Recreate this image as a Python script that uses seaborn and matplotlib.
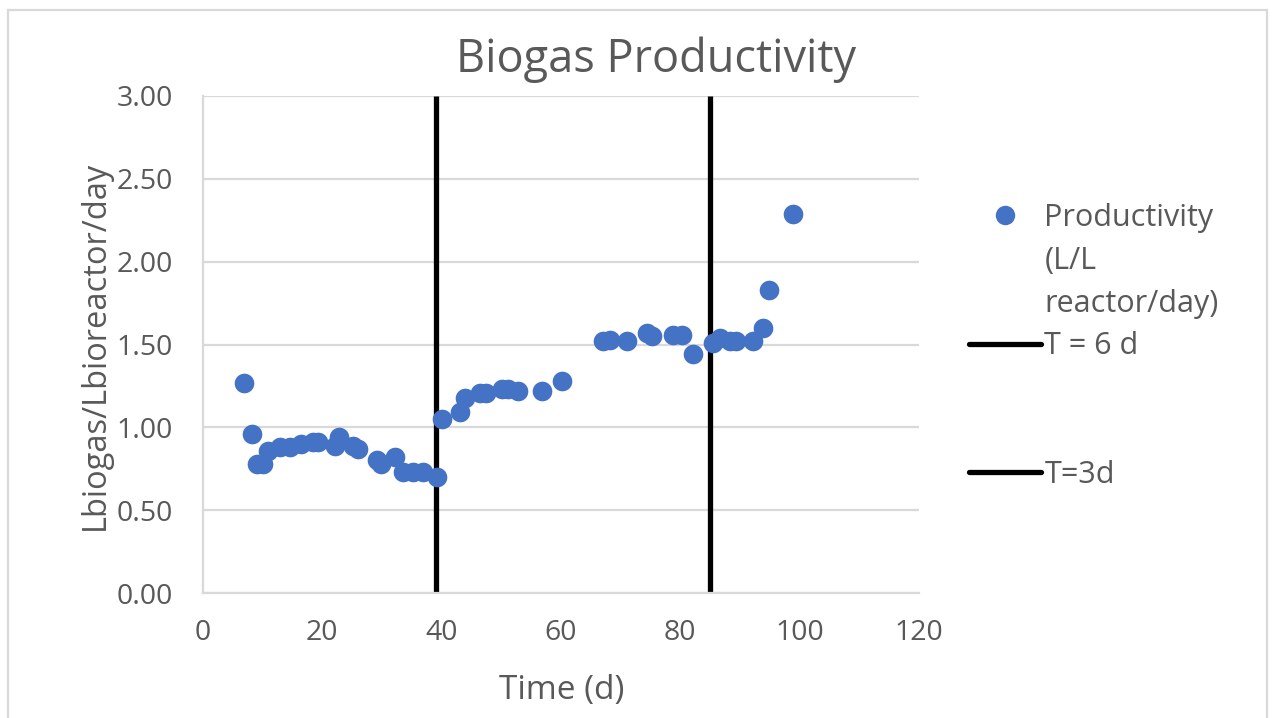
import matplotlib
matplotlib.use("Agg")
import matplotlib.pyplot as plt
from matplotlib.lines import Line2D
from matplotlib.patches import Rectangle
import seaborn as sns
import pandas as pd

# Biogas productivity readings
day = [6.9, 8.2, 9.0, 10.1, 10.9, 12.9, 14.6, 16.5, 18.4, 19.3, 22.1, 22.8,
       25.2, 26.0, 29.1, 29.9, 32.2, 33.6, 35.2, 36.9, 39.2, 40.0, 43.1, 43.9,
       46.4, 47.5, 50.1, 51.2, 52.8, 56.8, 60.1, 67.1, 68.2, 71.0, 74.4, 75.2,
       78.8, 80.2, 82.2, 85.5, 86.6, 88.3, 89.4, 92.2, 93.9, 94.9, 98.9]
productivity = [1.27, 0.96, 0.78, 0.78, 0.86, 0.88, 0.88, 0.90, 0.91, 0.91, 0.89, 0.94,
                0.89, 0.87, 0.80, 0.78, 0.82, 0.73, 0.73, 0.73, 0.70, 1.05, 1.09, 1.18,
                1.21, 1.21, 1.23, 1.23, 1.22, 1.22, 1.28, 1.52, 1.53, 1.52, 1.57, 1.55,
                1.56, 1.56, 1.44, 1.51, 1.54, 1.52, 1.52, 1.52, 1.60, 1.83, 2.29]

# Retention-time change markers
t6_day = 39
t3_day = 85
marker_span = [0.0, 3.0]

x_ticks = [0, 20, 40, 60, 80, 100, 120]
y_ticks = [0.0, 0.5, 1.0, 1.5, 2.0, 2.5, 3.0]

sns.set_theme(style="white")
plt.rcParams["font.family"] = ["Open Sans", "DejaVu Sans"]

TEXT = "#595959"
GRID = "#d9d9d9"
BLUE = "#4472C4"

W, H = 1274, 718
fig = plt.figure(figsize=(W / 100, H / 100), dpi=100)
ax = fig.add_axes([203 / W, 1 - 593 / H, (919 - 203) / W, (593 - 96) / H])

df = pd.DataFrame({"day": day, "productivity": productivity})
sns.scatterplot(data=df, x="day", y="productivity", ax=ax, s=200,
                color=BLUE, linewidth=0, zorder=3, legend=False)

ax.vlines(t6_day, marker_span[0], marker_span[1], color="black", lw=3.8, zorder=2)
ax.vlines(t3_day, marker_span[0], marker_span[1], color="black", lw=3.8, zorder=2)

ax.set_xlim(0, 120)
ax.set_ylim(0, 3)
ax.set_xticks(x_ticks)
ax.set_yticks(y_ticks)
ax.set_yticklabels([f"{v:.2f}" for v in y_ticks])
ax.tick_params(axis="both", length=0, labelsize=20.5, colors=TEXT)
ax.tick_params(axis="y", pad=21.5)
ax.tick_params(axis="x", pad=19)

ax.grid(axis="y", color=GRID, lw=1.6)
ax.grid(axis="x", visible=False)
ax.set_axisbelow(True)
for side in ["top", "right"]:
    ax.spines[side].set_visible(False)
for side in ["left", "bottom"]:
    ax.spines[side].set_color(GRID)
    ax.spines[side].set_linewidth(1.6)

ax.set_xlabel("")
ax.set_ylabel("")
fig.text(562 / W, 1 - 690 / H, "Time (d)", ha="center", va="center",
         fontsize=24, color=TEXT)
fig.text(95 / W, 1 - 345 / H, "Lbiogas/Lbioreactor/day", ha="center",
         va="center", rotation=90, fontsize=23.5, color=TEXT)
fig.text(656 / W, 1 - 60 / H, "Biogas Productivity", ha="center", va="center",
         fontsize=32.5, color=TEXT)

# Legend: marker entry with wrapped label, then the two reference lines
blank = Line2D([], [], linestyle="none")
handles = [
    Line2D([], [], linestyle="none", marker="o", markersize=14,
           markerfacecolor=BLUE, markeredgewidth=0),
    blank, blank,
    Line2D([], [], color="black", lw=3.8),
    blank, blank,
    Line2D([], [], color="black", lw=3.8),
]
labels = ["Productivity", "(L/L", "reactor/day)", "T = 6 d", "", "", "T=3d"]
leg = fig.legend(handles, labels, loc="upper left",
                 bbox_to_anchor=(969 / W, 1 - 203 / H), frameon=False,
                 fontsize=22, handlelength=2.35, handletextpad=0.12,
                 labelspacing=0.42, borderpad=0, borderaxespad=0)
for t in leg.get_texts():
    t.set_color(TEXT)

# Chart area outline
fig.add_artist(Rectangle((8 / W, -0.05), (1267 - 8) / W, 1.05 - 10 / H,
                         transform=fig.transFigure, fill=False,
                         edgecolor=GRID, lw=1.6))

fig.savefig("out.png", dpi=100)
